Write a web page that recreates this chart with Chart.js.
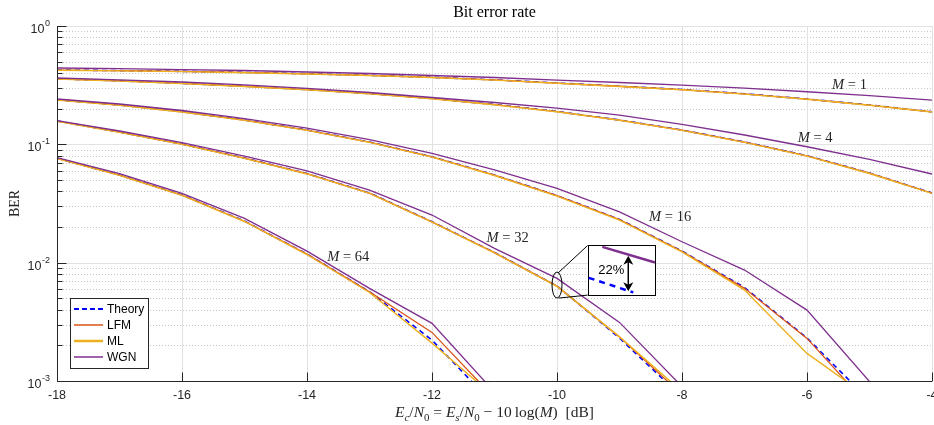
<!DOCTYPE html>
<html>
<head>
<meta charset="utf-8">
<script src="https://cdn.jsdelivr.net/npm/chart.js@4.4.1/dist/chart.umd.min.js"></script>
<style>
  html, body { margin: 0; padding: 0; background: #fff; }
  canvas { display: block; }
</style>
</head>
<body>
<canvas id="berChart" width="934" height="425"></canvas>
<script>
// Es/N0 - 10log(M) grid (dB)
const snrDb = [-18, -17, -16, -15, -14, -13, -12, -11, -10, -9, -8, -7, -6, -5, -4];

// BER, one array per modulation order and method
const theoryM1 = [0.4246, 0.4198, 0.4133, 0.4053, 0.3952, 0.3831, 0.3685, 0.3508, 0.3298, 0.3099, 0.2905, 0.2672, 0.2415, 0.2149, 0.1886];
const lfmM1    = [0.4240, 0.4192, 0.4128, 0.4049, 0.3946, 0.3827, 0.3680, 0.3503, 0.3294, 0.3095, 0.2901, 0.2669, 0.2412, 0.2146, 0.1883];
const mlM1     = [0.4225, 0.4176, 0.4112, 0.4032, 0.3932, 0.3812, 0.3667, 0.3490, 0.3282, 0.3084, 0.2890, 0.2658, 0.2403, 0.2138, 0.1876];
const wgnM1    = [0.4416, 0.4370, 0.4287, 0.4205, 0.4085, 0.3968, 0.3815, 0.3670, 0.3495, 0.3330, 0.3170, 0.2990, 0.2783, 0.2585, 0.2368];

const theoryM4 = [0.3584, 0.3441, 0.3279, 0.3099, 0.2905, 0.2688, 0.2438, 0.2170, 0.1894, 0.1605, 0.1321, 0.1046, 0.0801, 0.0572, 0.0388];
const lfmM4    = [0.3580, 0.3437, 0.3275, 0.3095, 0.2901, 0.2684, 0.2434, 0.2167, 0.1891, 0.1602, 0.1318, 0.1044, 0.0799, 0.0570, 0.0387];
const mlM4     = [0.3566, 0.3424, 0.3262, 0.3083, 0.2889, 0.2673, 0.2425, 0.2158, 0.1884, 0.1596, 0.1313, 0.1039, 0.0796, 0.0567, 0.0385];
const wgnM4    = [0.3634, 0.3508, 0.3362, 0.3184, 0.2974, 0.2741, 0.2487, 0.2256, 0.2027, 0.1768, 0.1476, 0.1199, 0.0954, 0.0747, 0.0561];

const theoryM16 = [0.2382, 0.2149, 0.1886, 0.1605, 0.1321, 0.1046, 0.0785, 0.0550, 0.0369, 0.0232, 0.01253, 0.00616, 0.00231, 0.000683];
const lfmM16    = [0.2380, 0.2146, 0.1884, 0.1603, 0.1319, 0.1044, 0.0783, 0.0549, 0.0368, 0.0231, 0.01250, 0.00607, 0.00229, 0.000605];
const mlM16     = [0.2368, 0.2136, 0.1874, 0.1595, 0.1312, 0.1039, 0.0779, 0.0545, 0.0365, 0.0229, 0.01235, 0.00587, 0.00171, 0.000721];
const wgnM16    = [0.2415, 0.2192, 0.1931, 0.1652, 0.1373, 0.1098, 0.0839, 0.0607, 0.0425, 0.0269, 0.01502, 0.00866, 0.003975, 0.00099];

const theoryM32 = [0.1574, 0.1270, 0.1006, 0.0766, 0.0566, 0.0388, 0.02216, 0.01218, 0.00634, 0.002305, 0.000731];
const lfmM32    = [0.1572, 0.1268, 0.1004, 0.0764, 0.0565, 0.0387, 0.02210, 0.01215, 0.00634, 0.00236, 0.000766];
const mlM32     = [0.1563, 0.1261, 0.0998, 0.0760, 0.0562, 0.0385, 0.02198, 0.01208, 0.00630, 0.00236, 0.000815];
const wgnM32    = [0.1589, 0.1296, 0.1036, 0.0796, 0.0598, 0.0411, 0.02526, 0.0132, 0.00737, 0.003129, 0.000897];

const theoryM64 = [0.0762, 0.0550, 0.0373, 0.02246, 0.01182, 0.00568, 0.002216, 0.000624];
const lfmM64    = [0.0761, 0.0549, 0.0372, 0.02240, 0.01180, 0.00568, 0.002575, 0.000716];
const mlM64     = [0.0757, 0.0546, 0.0370, 0.02228, 0.01172, 0.00560, 0.00209, 0.000734];
const wgnM64    = [0.0773, 0.0566, 0.0385, 0.02368, 0.01253, 0.00606, 0.00307, 0.000806];

const modOrders = [1, 4, 16, 32, 64];
const methodNames = ['Theory', 'LFM', 'ML', 'WGN'];
const xTicks = [-18, -16, -14, -12, -10, -8, -6, -4];
const yTicks = [1, 0.1, 0.01, 0.001];
const yTickExps = ['0', '-1', '-2', '-3'];

// where the "M = ..." text sits (data coords)
const labelX = [-5.32, -5.87, -8.19, -10.79, -13.34];
const labelY = [0.3215, 0.1159, 0.02477, 0.01636, 0.01137];

const seriesByM = [
  [theoryM1, lfmM1, mlM1, wgnM1],
  [theoryM4, lfmM4, mlM4, wgnM4],
  [theoryM16, lfmM16, mlM16, wgnM16],
  [theoryM32, lfmM32, mlM32, wgnM32],
  [theoryM64, lfmM64, mlM64, wgnM64]
];

const styles = [
  { color: '#0000ff', width: 1.6, dash: [5, 4], order: 4 },
  { color: '#d95319', width: 1.3, dash: [], order: 3 },
  { color: '#edb120', width: 1.4, dash: [], order: 2 },
  { color: '#7e2f8e', width: 1.3, dash: [], order: 1 }
];

const datasets = [];
seriesByM.forEach((group, mi) => {
  group.forEach((vals, k) => {
    datasets.push({
      label: methodNames[k] + ' M=' + modOrders[mi],
      data: vals.map((v, i) => ({ x: snrDb[i], y: v })),
      borderColor: styles[k].color,
      borderWidth: styles[k].width,
      borderDash: styles[k].dash,
      order: styles[k].order,
      pointRadius: 0,
      tension: 0,
      fill: false,
      clip: 0
    });
  });
});

const AXIS = '#262626';
const SANS = '"Liberation Sans", Arial, Helvetica, sans-serif';
const SERIF = '"Liberation Serif", "Times New Roman", serif';

function drawRich(ctx, parts, cx, cy, size) {
  const subSize = size * 0.7;
  const fontOf = p => (p.i ? 'italic ' : '') + (p.s ? subSize : size) + 'px ' + SERIF;
  let total = 0;
  parts.forEach(p => { ctx.font = fontOf(p); total += ctx.measureText(p.t).width; });
  let x = cx - total / 2;
  ctx.textAlign = 'left';
  ctx.textBaseline = 'alphabetic';
  parts.forEach(p => {
    ctx.font = fontOf(p);
    ctx.fillText(p.t, x, cy + (p.s ? size * 0.28 : 0));
    x += ctx.measureText(p.t).width;
  });
}

const decor = {
  id: 'decor',
  beforeDatasetsDraw(chart) {
    const { ctx, chartArea: a, scales: { x, y } } = chart;
    ctx.save();
    ctx.lineWidth = 1;
    // minor dotted grid
    ctx.strokeStyle = '#c4c4c4';
    ctx.setLineDash([1, 2]);
    for (let d = 0; d < 3; d++) {
      for (let k = 2; k <= 9; k++) {
        const py = Math.round(y.getPixelForValue(k * yTicks[d + 1])) + 0.5;
        ctx.beginPath(); ctx.moveTo(a.left, py); ctx.lineTo(a.right, py); ctx.stroke();
      }
    }
    // major grid
    ctx.setLineDash([]);
    ctx.strokeStyle = '#e2e2e2';
    yTicks.forEach(v => {
      const py = Math.round(y.getPixelForValue(v)) + 0.5;
      ctx.beginPath(); ctx.moveTo(a.left, py); ctx.lineTo(a.right, py); ctx.stroke();
    });
    xTicks.forEach(v => {
      const px = Math.round(x.getPixelForValue(v)) + 0.5;
      ctx.beginPath(); ctx.moveTo(px, a.top); ctx.lineTo(px, a.bottom); ctx.stroke();
    });
    ctx.restore();
  },
  afterDatasetsDraw(chart) {
    const { ctx, chartArea: a, scales: { x, y } } = chart;
    ctx.save();

    // axes (left and bottom dark)
    ctx.strokeStyle = AXIS;
    ctx.lineWidth = 1;
    const lx = Math.round(a.left) + 0.5, by = Math.round(a.bottom) + 0.5;
    ctx.beginPath(); ctx.moveTo(lx, a.top); ctx.lineTo(lx, by); ctx.lineTo(a.right, by); ctx.stroke();
    // y ticks
    for (let d = 0; d < 4; d++) {
      const py = Math.round(y.getPixelForValue(yTicks[d])) + 0.5;
      ctx.beginPath(); ctx.moveTo(lx, py); ctx.lineTo(lx + 9, py); ctx.stroke();
      if (d < 3) {
        for (let k = 2; k <= 9; k++) {
          const pm = Math.round(y.getPixelForValue(k * yTicks[d + 1])) + 0.5;
          ctx.beginPath(); ctx.moveTo(lx, pm); ctx.lineTo(lx + 5, pm); ctx.stroke();
        }
      }
    }
    // x ticks
    xTicks.forEach(v => {
      const px = Math.round(x.getPixelForValue(v)) + 0.5;
      ctx.beginPath(); ctx.moveTo(px, by); ctx.lineTo(px, by - 9); ctx.stroke();
    });

    // tick labels
    ctx.fillStyle = AXIS;
    ctx.textBaseline = 'middle';
    ctx.textAlign = 'center';
    ctx.font = '12.5px ' + SANS;
    xTicks.forEach(v => ctx.fillText(String(v), x.getPixelForValue(v), a.bottom + 15));
    yTicks.forEach((v, i) => {
      const py = y.getPixelForValue(v);
      ctx.font = '9px ' + SANS;
      const sw = ctx.measureText(yTickExps[i]).width;
      ctx.textAlign = 'right';
      ctx.fillText(yTickExps[i], a.left - 7, py - 2.5);
      ctx.font = '12.5px ' + SANS;
      ctx.fillText('10', a.left - 7 - sw - 0.5, py + 3.5);
    });

    // title & axis titles
    ctx.fillStyle = '#000';
    ctx.textAlign = 'center';
    ctx.font = '16px ' + SERIF;
    ctx.fillText('Bit error rate', (a.left + a.right) / 2, 13);
    ctx.save();
    ctx.translate(15, (a.top + a.bottom) / 2);
    ctx.rotate(-Math.PI / 2);
    ctx.font = '14px ' + SERIF;
    ctx.fillStyle = AXIS;
    ctx.fillText('BER', 0, 0);
    ctx.restore();
    ctx.fillStyle = AXIS;
    drawRich(ctx, [
      { t: 'E', i: 1 }, { t: 'c', i: 1, s: 1 }, { t: '/' }, { t: 'N', i: 1 }, { t: '0', s: 1 },
      { t: ' = ' }, { t: 'E', i: 1 }, { t: 's', i: 1, s: 1 }, { t: '/' }, { t: 'N', i: 1 }, { t: '0', s: 1 },
      { t: ' \u2212 10\u2009log(' }, { t: 'M', i: 1 }, { t: ')  [dB]' }
    ], (a.left + a.right) / 2, 417, 15.5);

    // M = ... labels
    modOrders.forEach((m, i) => {
      drawRich(ctx, [{ t: 'M', i: 1 }, { t: ' = ' + m }],
        x.getPixelForValue(labelX[i]), y.getPixelForValue(labelY[i]) + 5, 14.5);
    });

    // inset: ellipse around M=32 at -10 dB and magnified box
    const ex = x.getPixelForValue(-10), ey = y.getPixelForValue(0.00647);
    const bl = x.getPixelForValue(-9.509), br = x.getPixelForValue(-8.432);
    const bt = y.getPixelForValue(0.01398), bb = y.getPixelForValue(0.00532);
    const bw = br - bl, bh = bb - bt;
    ctx.strokeStyle = '#000';
    ctx.lineWidth = 1;
    ctx.beginPath(); ctx.ellipse(ex, ey, 5, 13, 0, 0, Math.PI * 2); ctx.stroke();
    ctx.beginPath(); ctx.moveTo(ex + 1, ey - 12); ctx.lineTo(bl, bt); ctx.stroke();
    ctx.beginPath(); ctx.moveTo(ex + 2, ey + 13); ctx.lineTo(bl, bb); ctx.stroke();
    ctx.fillStyle = '#fff';
    ctx.fillRect(bl, bt, bw, bh);
    ctx.strokeRect(Math.round(bl) + 0.5, Math.round(bt) + 0.5, Math.round(bw), Math.round(bh));
    ctx.lineWidth = 2.5;
    ctx.strokeStyle = styles[3].color;
    ctx.beginPath(); ctx.moveTo(bl + 0.217 * bw, bt + 0.028 * bh); ctx.lineTo(br, bt + 0.342 * bh); ctx.stroke();
    ctx.strokeStyle = styles[0].color;
    ctx.setLineDash([6, 5]);
    ctx.beginPath(); ctx.moveTo(bl + 1, bt + 0.652 * bh); ctx.lineTo(bl + 0.678 * bw, bt + 0.946 * bh); ctx.stroke();
    ctx.setLineDash([]);
    // double arrow
    const ax = bl + 0.603 * bw, ay1 = bt + 0.209 * bh, ay2 = bt + 0.92 * bh;
    ctx.strokeStyle = '#000'; ctx.fillStyle = '#000'; ctx.lineWidth = 1.5;
    ctx.beginPath(); ctx.moveTo(ax, ay1 + 6); ctx.lineTo(ax, ay2 - 6); ctx.stroke();
    ctx.beginPath(); ctx.moveTo(ax, ay1); ctx.lineTo(ax - 5, ay1 + 9); ctx.lineTo(ax, ay1 + 6.5); ctx.lineTo(ax + 5, ay1 + 9); ctx.closePath(); ctx.fill();
    ctx.beginPath(); ctx.moveTo(ax, ay2); ctx.lineTo(ax - 5, ay2 - 9); ctx.lineTo(ax, ay2 - 6.5); ctx.lineTo(ax + 5, ay2 - 9); ctx.closePath(); ctx.fill();
    ctx.font = '13px ' + SANS;
    ctx.textAlign = 'center'; ctx.textBaseline = 'middle';
    ctx.fillText('22%', bl + 0.352 * bw, bt + 0.511 * bh);

    // legend (inside, lower left)
    const lgL = a.left + 13, lgW = 78, lgH = 70, lgT = a.bottom - 13.5 - lgH;
    ctx.fillStyle = '#fff';
    ctx.fillRect(lgL, lgT, lgW, lgH);
    ctx.strokeStyle = AXIS; ctx.lineWidth = 1;
    ctx.strokeRect(Math.round(lgL) + 0.5, Math.round(lgT) + 0.5, lgW, lgH);
    ctx.font = '12px ' + SANS;
    ctx.textAlign = 'left'; ctx.textBaseline = 'middle';
    const legWidths = [2, 1.5, 2.5, 1.5];
    methodNames.forEach((name, k) => {
      const ry = lgT + 11.5 + k * 16;
      ctx.strokeStyle = styles[k].color;
      ctx.lineWidth = legWidths[k];
      ctx.setLineDash(k === 0 ? [5, 3] : []);
      ctx.beginPath(); ctx.moveTo(lgL + 4, ry); ctx.lineTo(lgL + 33, ry); ctx.stroke();
      ctx.setLineDash([]);
      ctx.fillStyle = '#000';
      ctx.fillText(name, lgL + 37, ry + 0.5);
    });

    ctx.restore();
  }
};

new Chart(document.getElementById('berChart'), {
  type: 'line',
  data: { datasets: datasets },
  options: {
    responsive: false,
    animation: false,
    devicePixelRatio: 1,
    layout: { padding: { top: 26, right: 2, left: 0, bottom: 0 } },
    plugins: { legend: { display: false }, tooltip: { enabled: false }, title: { display: false } },
    scales: {
      x: {
        type: 'linear', min: -18, max: -4,
        grid: { display: false }, border: { display: false }, ticks: { display: false },
        afterFit: s => { s.height = 44; }
      },
      y: {
        type: 'logarithmic', min: 0.001, max: 1,
        grid: { display: false }, border: { display: false }, ticks: { display: false },
        afterFit: s => { s.width = 57; }
      }
    }
  },
  plugins: [decor]
});
</script>
</body>
</html>
